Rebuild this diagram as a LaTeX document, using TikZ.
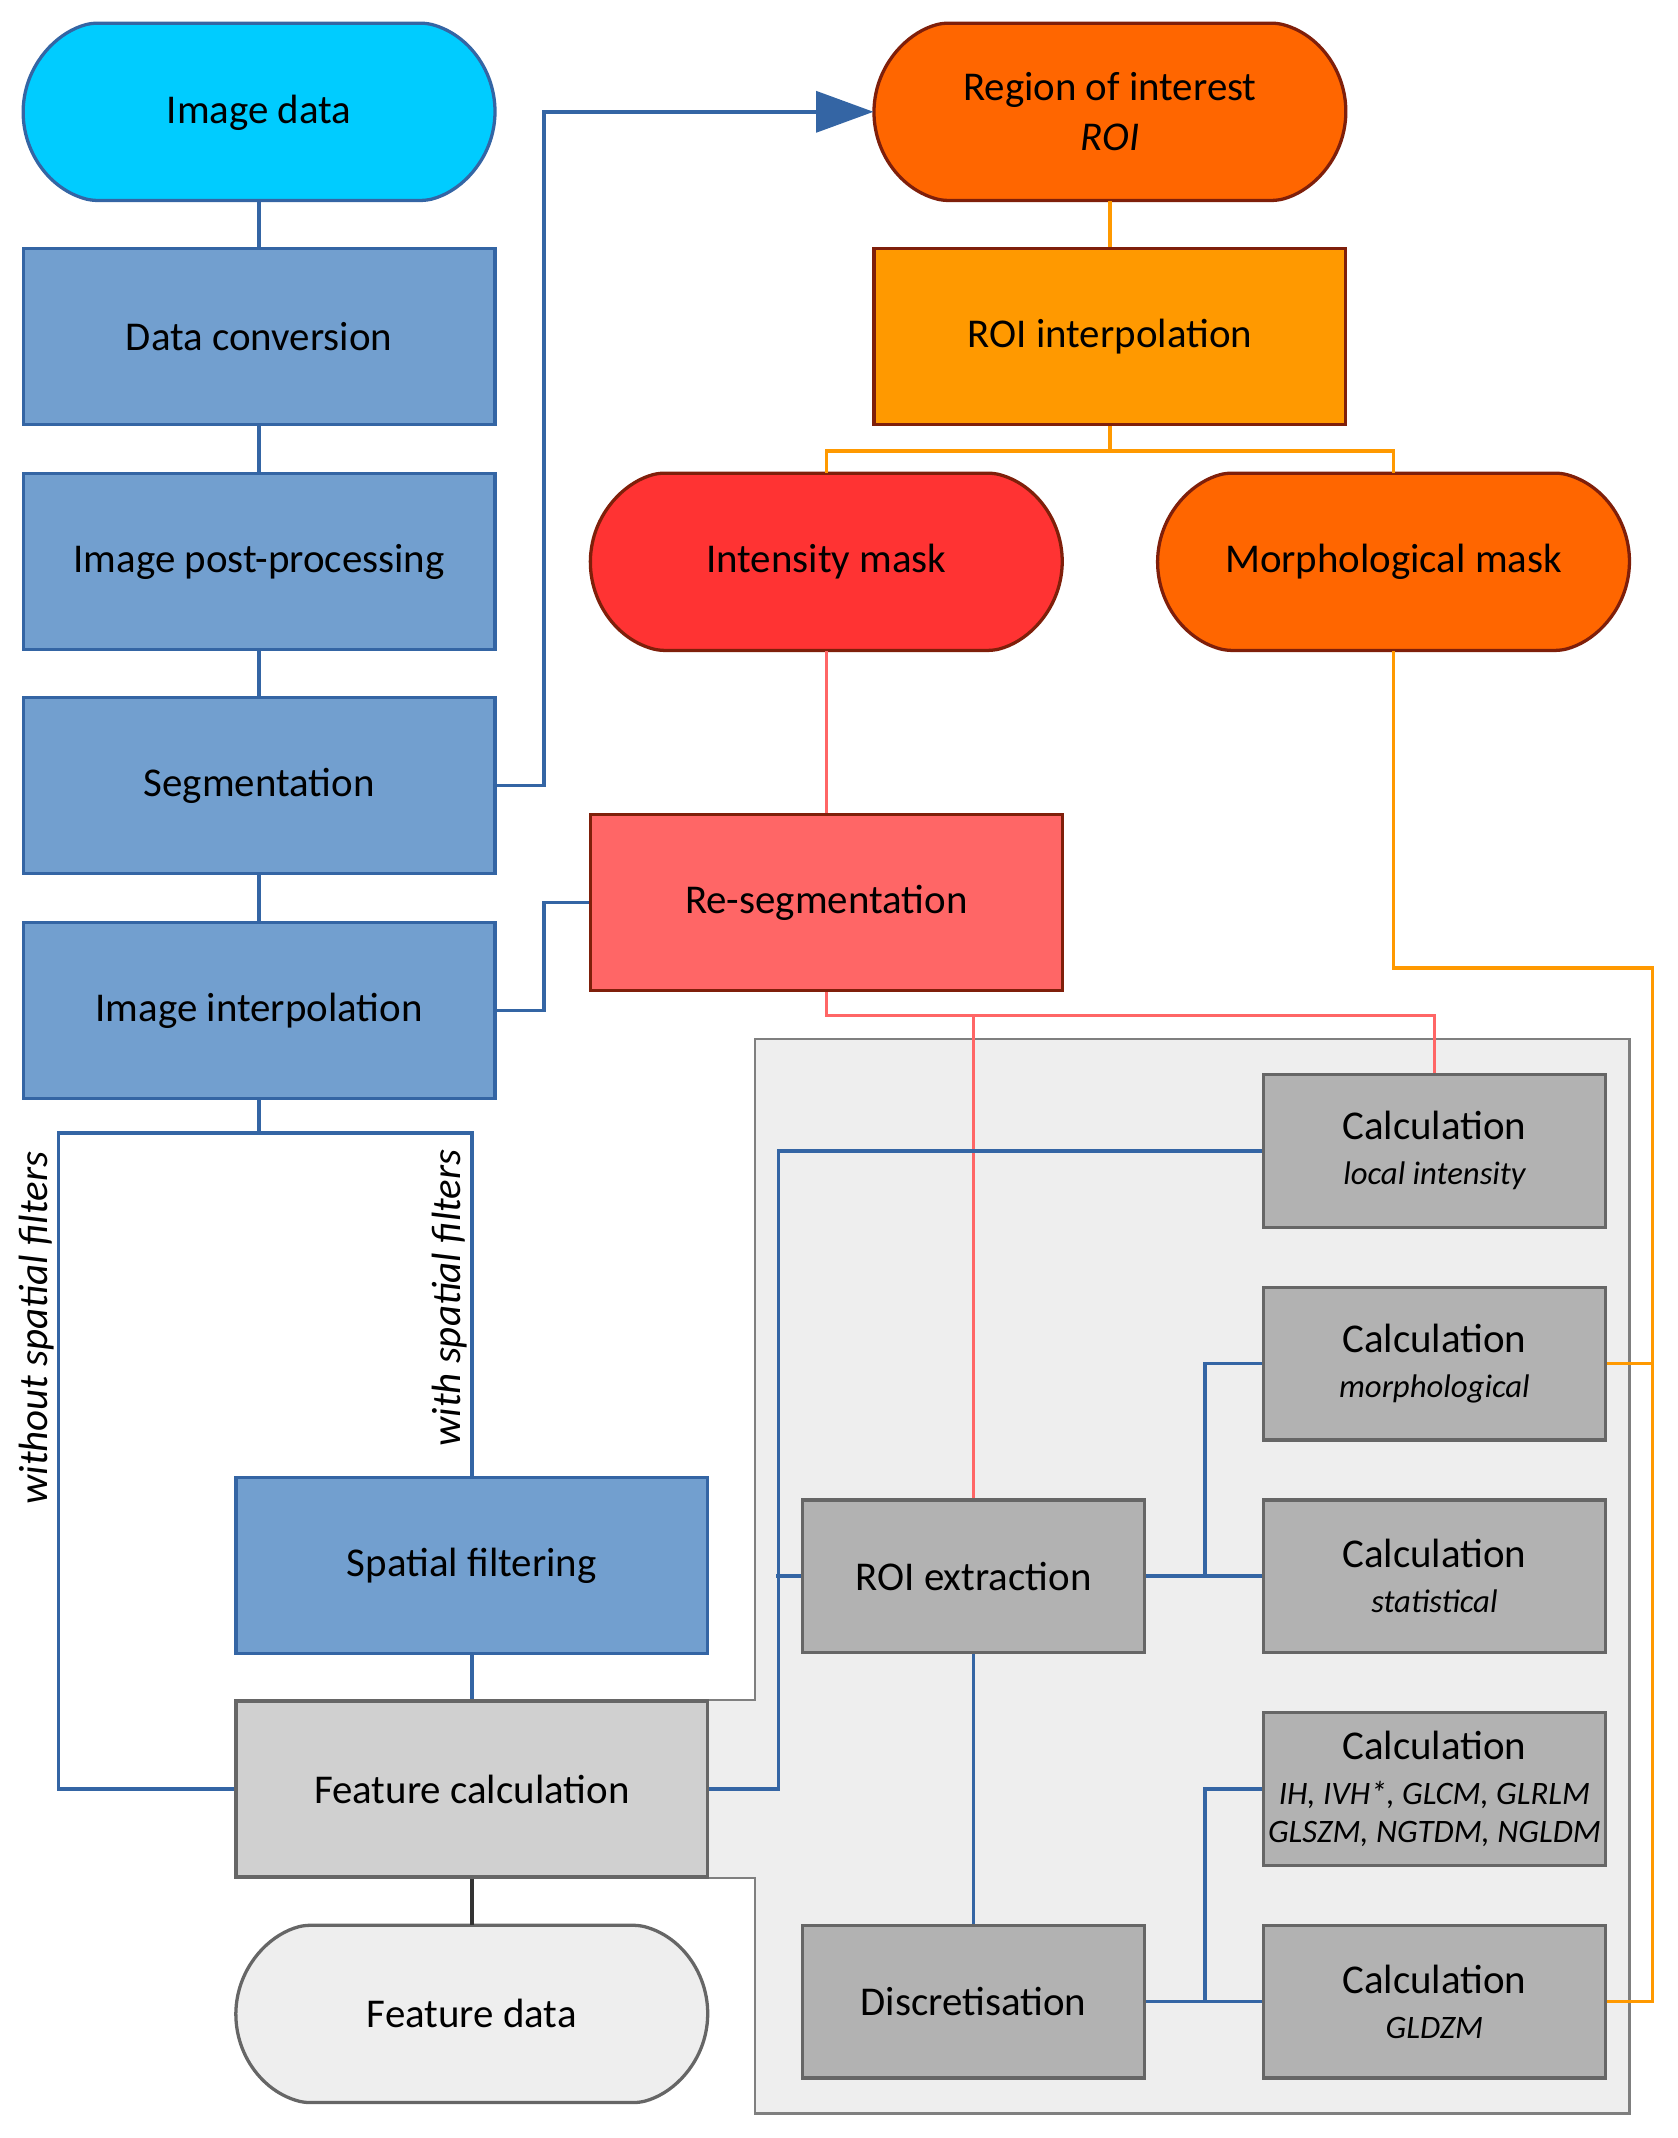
\documentclass[tikz,border=0pt]{standalone}
\usepackage{fontspec}
\setmainfont{Carlito}
\usetikzlibrary{arrows.meta}
\definecolor{bluefill}{HTML}{729FCF}
\definecolor{blueline}{HTML}{3465A4}
\definecolor{cyanfill}{HTML}{00CCFF}
\definecolor{orangeA}{HTML}{FF6600}
\definecolor{orangeB}{HTML}{FF9900}
\definecolor{redA}{HTML}{FF3333}
\definecolor{redB}{HTML}{FF6666}
\definecolor{darkred}{HTML}{7F1F0A}
\definecolor{calcgray}{HTML}{B2B2B2}
\definecolor{boxborder}{HTML}{666666}
\definecolor{featgray}{HTML}{D0D0D0}
\definecolor{lightbg}{HTML}{EEEEEE}
\definecolor{contborder}{HTML}{7F7F7F}
\newcommand\termshape[4]{%
  \draw[line width=1.2pt, rounded corners=2pt, fill=#3, draw=#4, shift={(#1,#2)}]
   (0pt,32.5pt) -- (61.5pt,32.5pt) arc[start angle=75.14, end angle=-75.14, radius=33.625pt]
   -- (-61.5pt,-32.5pt) arc[start angle=255.14, end angle=104.86, radius=33.625pt] -- cycle;}
\begin{document}
\begin{tikzpicture}[x=0.5pt, y=0.5pt,
  base/.style={font=\fontsize{15}{18.5}\selectfont, align=center, inner sep=0pt},
  bigbox/.style={base, rectangle, minimum width=173pt, minimum height=64.5pt, line width=1.2pt},
  bluebox/.style={bigbox, draw=blueline, fill=bluefill},
  redbox/.style={bigbox, draw=darkred},
  term/.style={base, rectangle, minimum width=173pt, minimum height=65pt},
  calcbox/.style={base, font=\fontsize{15}{16.5}\selectfont, rectangle, minimum width=125.5pt, minimum height=56pt, draw=boxborder, fill=calcgray, line width=1.2pt},
  conn/.style={line width=1.3pt},
  bconn/.style={conn, draw=blueline},
  oconn/.style={conn, draw=orangeB},
  rconn/.style={conn, draw=redB},
  lbl/.style={font=\fontsize{15}{18}\selectfont\itshape, rotate=90, anchor=south, inner sep=1.5pt}
]
\useasboundingbox (0,0) rectangle (1230,-1568);

% container
\draw[fill=lightbg, draw=contborder, line width=0.8pt]
  (554,-762) -- (1195,-762) -- (1195,-1550) -- (554,-1550) -- (554,-1377)
  -- (519,-1377) -- (519,-1247) -- (554,-1247) -- cycle;

% terminal outlines
\termshape{190}{-82}{cyanfill}{blueline}
\termshape{814}{-82}{orangeA}{darkred}
\termshape{606}{-412}{redA}{darkred}
\termshape{1022}{-412}{orangeA}{darkred}
\termshape{346}{-1477}{lightbg}{boxborder}

% nodes
\node[term] (imgdata) at (190,-83) {Image data};
\node[bluebox] (dataconv) at (190,-247) {Data conversion};
\node[bluebox] (postproc) at (190,-412) {Image post-processing};
\node[bluebox] (seg) at (190,-576) {Segmentation};
\node[bluebox] (interp) at (190,-741) {Image interpolation};
\node[bluebox] (spatial) at (346,-1148) {Spatial filtering};
\node[bigbox, draw=boxborder, fill=featgray] (featcalc) at (346,-1312) {Feature calculation};
\node[term] (featdata) at (346,-1477) {Feature data};

\node[term] (roi) at (814,-82) {Region of interest\\\textit{ROI}};
\node[redbox, fill=orangeB] (roiinterp) at (814,-247) {ROI interpolation};
\node[term] (intmask) at (606,-412) {Intensity mask};
\node[term] (morphmask) at (1022,-412) {Morphological mask};
\node[redbox, fill=redB] (reseg) at (606,-662) {Re-segmentation};

\node[calcbox] (calcloc) at (1052,-844) {Calculation\\{\fontsize{12}{14}\selectfont\itshape local intensity}};
\node[calcbox] (calcmorph) at (1052,-1000) {Calculation\\{\fontsize{12}{14}\selectfont\itshape morphological}};
\node[calcbox] (calcstat) at (1052,-1156) {Calculation\\{\fontsize{12}{14}\selectfont\itshape statistical}};
\node[calcbox] (calctex) at (1052,-1312) {Calculation\\{\fontsize{12}{14}\selectfont\itshape IH, IVH*, GLCM, GLRLM}\\[-2.5pt]{\fontsize{12}{14}\selectfont\itshape GLSZM, NGTDM, NGLDM}};
\node[calcbox] (calcgldzm) at (1052,-1468) {Calculation\\{\fontsize{12}{14}\selectfont\itshape GLDZM}};
\node[calcbox] (roiext) at (714,-1156) {ROI extraction};
\node[calcbox] (discr) at (714,-1468) {Discretisation};

% labels
\node[lbl] (lblwithout) at (43,-974) {without spatial filters};
\node[lbl] (lblwith) at (346,-952) {with spatial filters};

% blue connectors, left column
\draw[bconn] (imgdata.south) -- (dataconv.north);
\draw[bconn] (dataconv.south) -- (postproc.north);
\draw[bconn] (postproc.south) -- (seg.north);
\draw[bconn] (seg.south) -- (interp.north);
\draw[bconn] (interp.south) |- (43,-831) |- (featcalc.west);
\draw[bconn] (interp.south) |- (346,-831) -- (spatial.north);
\draw[bconn] (spatial.south) -- (featcalc.north);
\draw[conn, draw=black!80] (featcalc.south) -- (featdata.north);
\draw[bconn, -{Triangle[length=21pt,width=15pt]}] (seg.east) -- (399,-576) |- (roi.west);
\draw[bconn] (interp.east) -- (399,-741) |- (reseg.west);

% orange / red connectors
\draw[oconn] (roi.south) -- (roiinterp.north);
\draw[oconn] (roiinterp.south) -- ++(0,-18) -| (intmask.north);
\draw[oconn] (roiinterp.south) -- ++(0,-18) -| (morphmask.north);
\draw[rconn] (intmask.south) -- (reseg.north);
\draw[rconn] (reseg.south) -- ++(0,-17) -| (calcloc.north);
\draw[rconn] (reseg.south) -- ++(0,-17) -| (roiext.north);
\draw[oconn] (morphmask.south) |- (1212,-710) |- (calcgldzm.east);
\draw[oconn] (calcmorph.east) -- (1212,-1000);

% blue connectors, feature calculation
\draw[bconn] (featcalc.east) -- (571,-1312) |- (calcloc.west);
\draw[bconn] (roiext.west) -- ++(-18,0);
\draw[bconn] (roiext.east) -- (calcstat.west);
\draw[bconn] (roiext.east) -- ++(43,0) |- (calcmorph.west);
\draw[bconn] (roiext.south) -- (discr.north);
\draw[bconn] (discr.east) -- (calcgldzm.west);
\draw[bconn] (discr.east) -- ++(43,0) |- (calctex.west);
\end{tikzpicture}
\end{document}
